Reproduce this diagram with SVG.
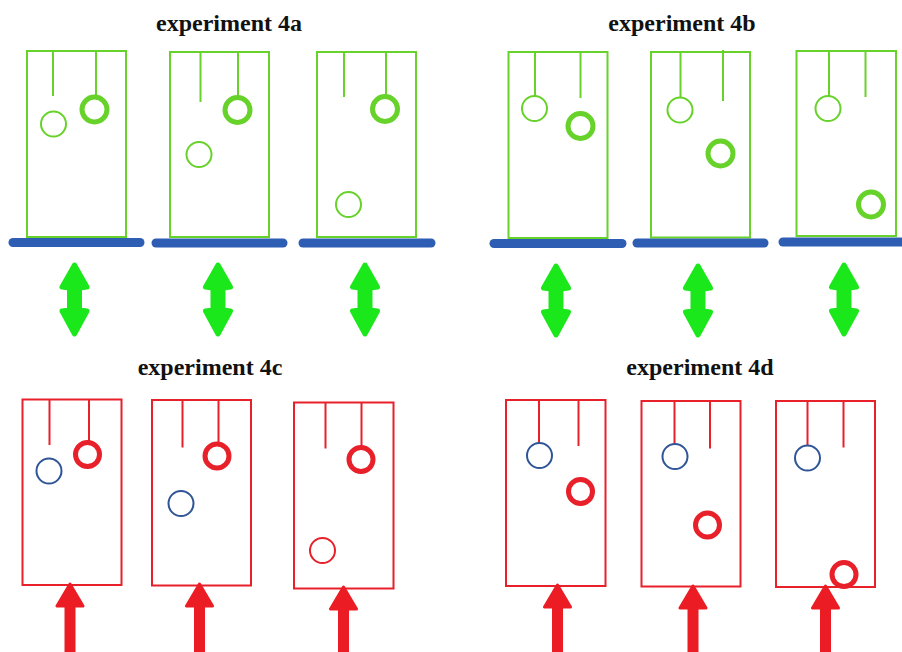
<svg xmlns="http://www.w3.org/2000/svg" width="902" height="652" viewBox="0 0 902 652">
<style>
.t{font-family:"Liberation Serif","Times New Roman",serif;font-weight:bold;font-size:24px;fill:#111;text-anchor:middle}
.gb{fill:none;stroke:#66d22a;stroke-width:2}
.rb{fill:none;stroke:#e8202a;stroke-width:2}
.gthick{fill:none;stroke:#66d22a;stroke-width:5}
.rthick{fill:none;stroke:#e8202a;stroke-width:5}
.bthin{fill:none;stroke:#2f5597;stroke-width:2}
.rthin{fill:none;stroke:#e8202a;stroke-width:2}
.bar{stroke:#2e5db4;stroke-width:9;stroke-linecap:round}
.garr{fill:#1be81b;stroke:#1be81b;stroke-width:5;stroke-linejoin:round}
.rarr{fill:#ec1c24;stroke:#ec1c24;stroke-width:3;stroke-linejoin:round}
</style>
<rect width="902" height="652" fill="#fff"/>
<text class="t" x="229" y="31">experiment 4a</text>
<text class="t" x="682" y="31">experiment 4b</text>
<text class="t" x="210" y="375">experiment 4c</text>
<text class="t" x="700" y="375">experiment 4d</text>

<g id="a1">
<rect class="gb" x="27" y="51" width="99" height="186"/>
<line class="gb" x1="53" y1="51" x2="53" y2="96"/>
<line class="gb" x1="96" y1="51" x2="96" y2="97"/>
<circle class="gthick" cx="94.5" cy="109.5" r="12.5"/>
<circle class="gb" cx="53.5" cy="124" r="12.5"/>
</g>
<g id="a2">
<rect class="gb" x="170" y="52" width="99" height="185"/>
<line class="gb" x1="200.5" y1="52" x2="200.5" y2="102"/>
<line class="gb" x1="238" y1="52" x2="238" y2="98"/>
<circle class="gthick" cx="237.5" cy="110" r="12.5"/>
<circle class="gb" cx="199" cy="154.5" r="12.5"/>
</g>
<g id="a3">
<rect class="gb" x="317" y="52" width="99" height="185"/>
<line class="gb" x1="344" y1="52" x2="344" y2="97"/>
<line class="gb" x1="386" y1="52" x2="386" y2="97"/>
<circle class="gthick" cx="385" cy="109" r="12.5"/>
<circle class="gb" cx="348.5" cy="204.5" r="12.5"/>
</g>

<g id="b1">
<rect class="gb" x="508.5" y="52" width="99" height="186"/>
<line class="gb" x1="535" y1="52" x2="535" y2="96"/>
<circle class="gb" cx="534.5" cy="108.5" r="12.5"/>
<line class="gb" x1="580.5" y1="52" x2="580.5" y2="98"/>
<circle class="gthick" cx="580.5" cy="126" r="12.5"/>
</g>
<g id="b2">
<rect class="gb" x="651" y="52" width="99" height="185.5"/>
<line class="gb" x1="680.5" y1="52" x2="680.5" y2="97.5"/>
<circle class="gb" cx="680" cy="110" r="12.5"/>
<line class="gb" x1="723" y1="50" x2="723" y2="101"/>
<circle class="gthick" cx="720.5" cy="153.5" r="12.5"/>
</g>
<g id="b3">
<rect class="gb" x="796.5" y="51" width="99.5" height="185"/>
<line class="gb" x1="829" y1="51" x2="829" y2="96"/>
<circle class="gb" cx="828" cy="108.5" r="12.5"/>
<line class="gb" x1="865.5" y1="51" x2="865.5" y2="97"/>
<circle class="gthick" cx="871" cy="204.5" r="12.5"/>
</g>

<g id="c1">
<rect class="rb" x="22.5" y="399.5" width="99" height="185.5"/>
<line class="rb" x1="49.5" y1="399.5" x2="49.5" y2="445"/>
<line class="rb" x1="89" y1="399.5" x2="89" y2="442"/>
<circle class="rthick" cx="87.5" cy="454.5" r="12"/>
<circle class="bthin" cx="49" cy="471" r="12.5"/>
</g>
<g id="c2">
<rect class="rb" x="152" y="400" width="99" height="185.5"/>
<line class="rb" x1="182.5" y1="400" x2="182.5" y2="447.5"/>
<line class="rb" x1="218.5" y1="400" x2="218.5" y2="444"/>
<circle class="rthick" cx="217" cy="456" r="12"/>
<circle class="bthin" cx="181" cy="503.5" r="12.5"/>
</g>
<g id="c3">
<rect class="rb" x="294" y="402.5" width="99.5" height="186"/>
<line class="rb" x1="325.5" y1="402.5" x2="325.5" y2="448.5"/>
<line class="rb" x1="361.5" y1="402.5" x2="361.5" y2="447"/>
<circle class="rthick" cx="361" cy="459.5" r="12"/>
<circle class="rthin" cx="322.5" cy="550.5" r="12.5"/>
</g>

<g id="d1">
<rect class="rb" x="506" y="400" width="99.5" height="186"/>
<line class="rb" x1="539" y1="400" x2="539" y2="443"/>
<circle class="bthin" cx="539.5" cy="455.5" r="12.5"/>
<line class="rb" x1="578.5" y1="400" x2="578.5" y2="446"/>
<circle class="rthick" cx="580.5" cy="491.5" r="12"/>
</g>
<g id="d2">
<rect class="rb" x="641.5" y="401" width="99" height="185.5"/>
<line class="rb" x1="674.5" y1="401" x2="674.5" y2="444"/>
<circle class="bthin" cx="675" cy="456.5" r="12.5"/>
<line class="rb" x1="710" y1="401" x2="710" y2="448.5"/>
<circle class="rthick" cx="707.5" cy="525" r="12"/>
</g>
<g id="d3">
<rect class="rb" x="776" y="401" width="99" height="186"/>
<line class="rb" x1="807.5" y1="401" x2="807.5" y2="445.5"/>
<circle class="bthin" cx="807.5" cy="458" r="12.5"/>
<line class="rb" x1="843.5" y1="401" x2="843.5" y2="447.5"/>
<circle class="rthick" cx="844" cy="574.5" r="12"/>
</g>

<g id="connectors">
<line class="bar" x1="13" y1="242.5" x2="140" y2="242.5"/>
<line class="bar" x1="156" y1="243" x2="283" y2="243"/>
<line class="bar" x1="303" y1="243" x2="431" y2="243"/>
<line class="bar" x1="494" y1="243.5" x2="622" y2="243.5"/>
<line class="bar" x1="637" y1="243" x2="764" y2="243"/>
<line class="bar" x1="783" y1="242" x2="906" y2="242"/>

<path id="ga" class="garr" d="M0,3 L-12.5,25 L-5,26 L-5,48 L-12.5,49 L0,72 L12.5,49 L5,48 L5,26 L12.5,25 Z" transform="translate(74.5,262)"/>
<use href="#ga" transform="translate(143.5,0)"/>
<use href="#ga" transform="translate(290.5,0)"/>
<use href="#ga" transform="translate(481.5,1)"/>
<use href="#ga" transform="translate(623.5,1)"/>
<use href="#ga" transform="translate(769.5,0)"/>

<path id="ra" class="rarr" d="M0,0 L-13,22 L-4,22 L-4,70 L4,70 L4,22 L13,22 Z" transform="translate(70,584)"/>
<use href="#ra" transform="translate(129.5,0)"/>
<use href="#ra" transform="translate(273.5,3)"/>
<use href="#ra" transform="translate(487.5,1)"/>
<use href="#ra" transform="translate(623,2)"/>
<use href="#ra" transform="translate(755.5,2)"/>
</g>
</svg>
